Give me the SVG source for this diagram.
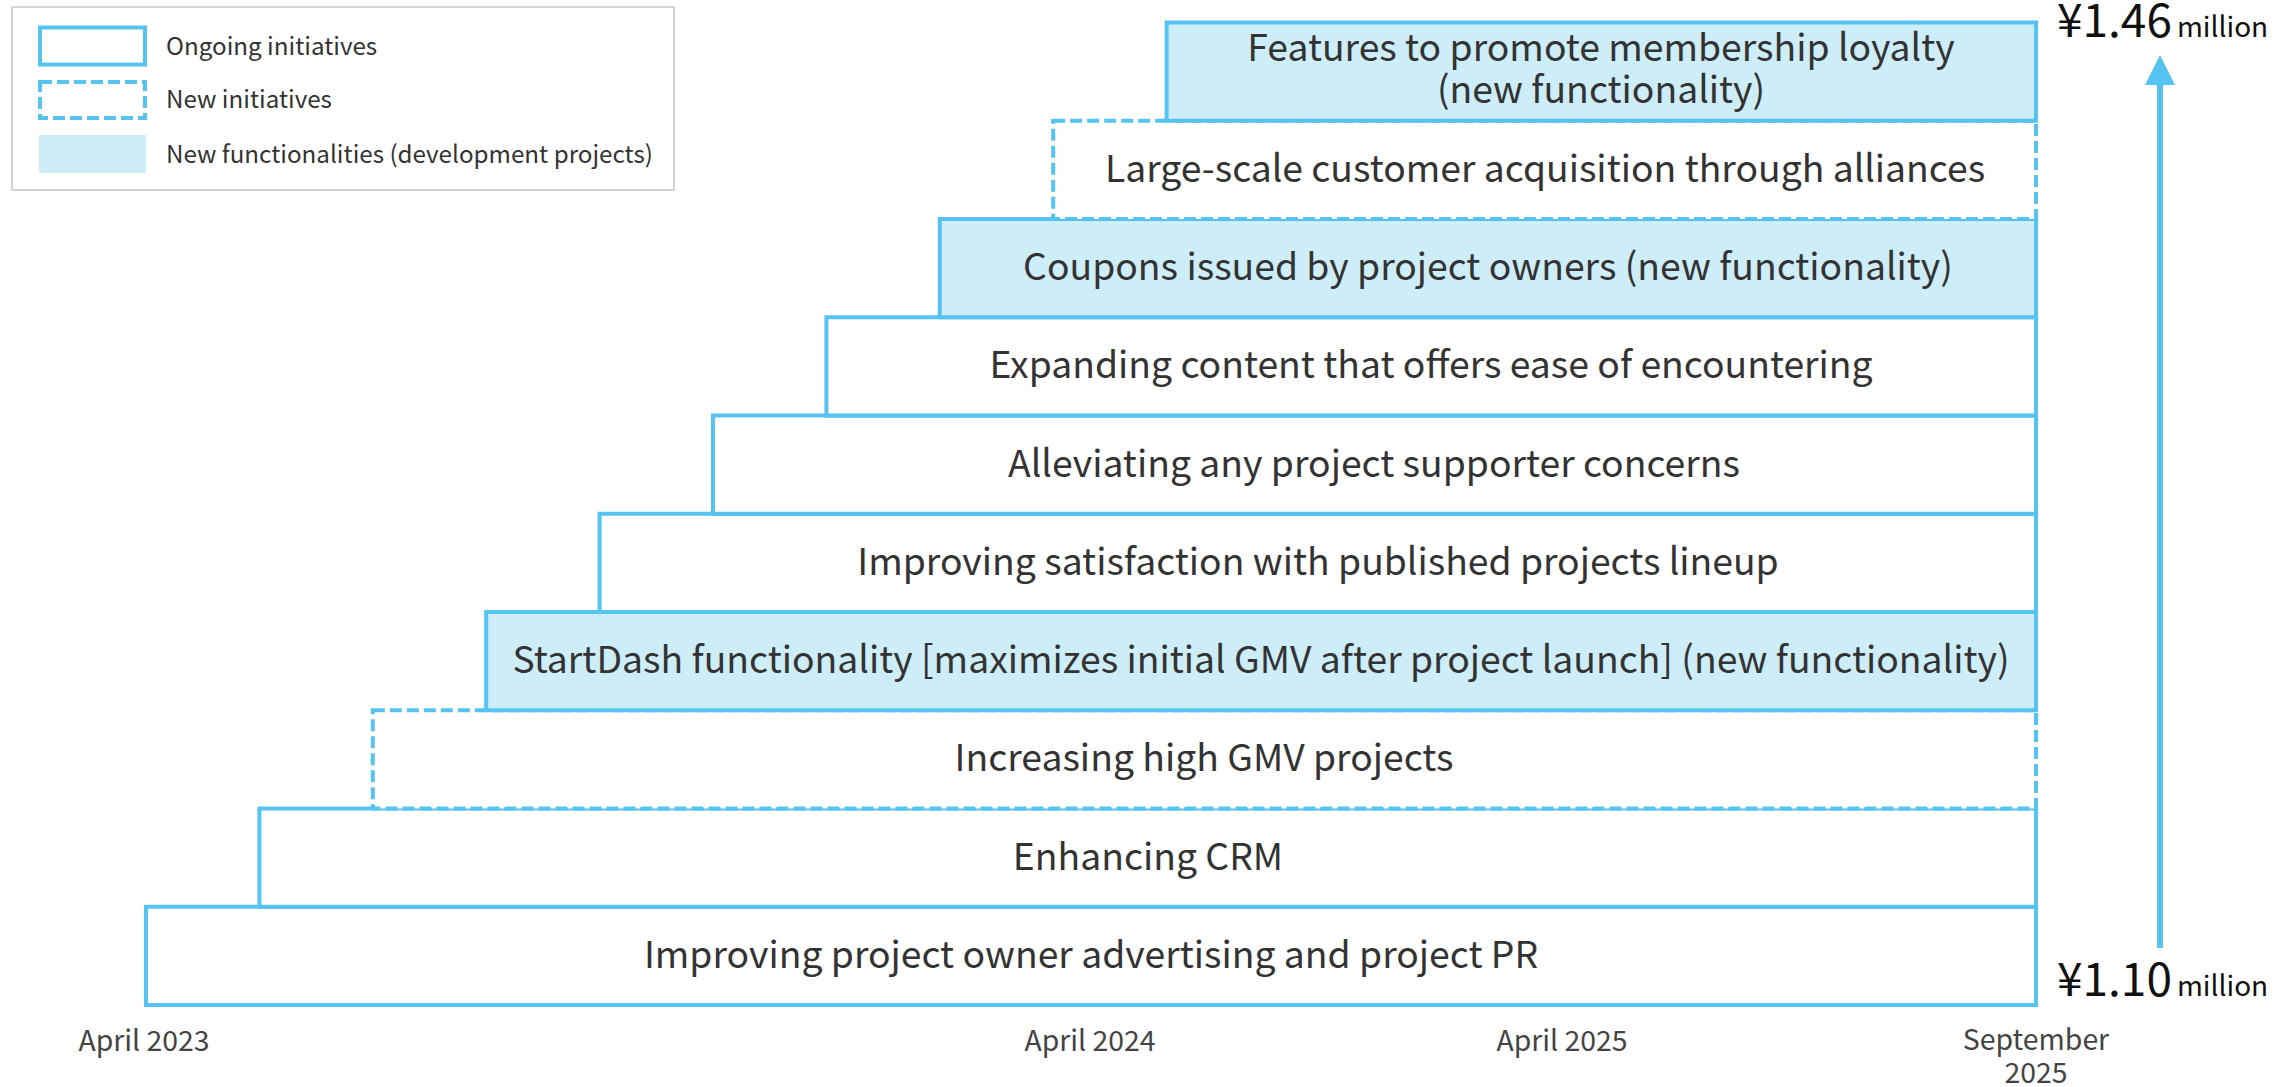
<svg xmlns="http://www.w3.org/2000/svg" width="2292" height="1087" viewBox="0 0 2292 1087">
<style>
  text { font-family: "Noto Sans CJK JP", "Noto Sans", "Liberation Sans", sans-serif; }
  .solid { fill: #ffffff; stroke: #56c3f0; stroke-width: 4; }
  .dash { fill: #ffffff; stroke: #56c3f0; stroke-width: 4; stroke-dasharray: 12 5; }
  .newf { fill: #cdedf9; stroke: #56c3f0; stroke-width: 4; }
  .lbl { font-size: 37.3px; fill: #333333; text-anchor: middle; }
  .leg { font-size: 24.2px; fill: #333333; }
  .axis { font-size: 28.4px; fill: #444444; text-anchor: middle; }
  .yen { font-size: 46px; fill: #111111; }
  .mil { font-size: 28px; fill: #111111; }
</style>
<defs>
  <marker id="head" viewBox="0 0 30 30" refX="0" refY="15" markerWidth="30" markerHeight="30" markerUnits="userSpaceOnUse" orient="auto">
    <path d="M0,0 L30,15 L0,30 Z" fill="#56c3f0"/>
  </marker>
</defs>
<rect width="2292" height="1087" fill="#ffffff"/>

<g id="legend">
  <rect x="12" y="7" width="662" height="183" fill="#ffffff" stroke="#d4d4d4" stroke-width="2"/>
  <rect x="40" y="27.5" width="105" height="37" class="solid"/>
  <rect x="40" y="82" width="105" height="36" class="dash"/>
  <rect x="39" y="135" width="107" height="38" fill="#cdedf9"/>
  <text class="leg" x="166" y="55">Ongoing initiatives</text>
  <text class="leg" x="166" y="108">New initiatives</text>
  <text class="leg" x="166" y="163">New functionalities (development projects)</text>
</g>

<g id="node-k0">
  <rect x="146" y="906.75" width="1890" height="98.25" class="solid"/>
  <text class="lbl" x="1091" y="968">Improving project owner advertising and project PR</text>
</g>
<g id="node-k1">
  <rect x="259.4" y="808.5" width="1776.6" height="98.25" class="solid"/>
  <text class="lbl" x="1148" y="870">Enhancing CRM</text>
</g>
<g id="node-k2">
  <rect x="372.8" y="710.25" width="1663.2" height="98.25" class="dash"/>
  <text class="lbl" x="1204" y="771">Increasing high GMV projects</text>
</g>
<g id="node-k3">
  <rect x="486.2" y="612" width="1549.8" height="98.25" class="newf"/>
  <text class="lbl" x="1261" y="673">StartDash functionality [maximizes initial GMV after project launch] (new functionality)</text>
</g>
<g id="node-k4">
  <rect x="599.6" y="513.75" width="1436.4" height="98.25" class="solid"/>
  <text class="lbl" x="1318" y="575">Improving satisfaction with published projects lineup</text>
</g>
<g id="node-k5">
  <rect x="713" y="415.5" width="1323" height="98.25" class="solid"/>
  <text class="lbl" x="1374" y="477">Alleviating any project supporter concerns</text>
</g>
<g id="node-k6">
  <rect x="826.4" y="317.25" width="1209.6" height="98.25" class="solid"/>
  <text class="lbl" x="1431" y="378">Expanding content that offers ease of encountering</text>
</g>
<g id="node-k7">
  <rect x="939.8" y="219" width="1096.2" height="98.25" class="newf"/>
  <text class="lbl" x="1488" y="280">Coupons issued by project owners (new functionality)</text>
</g>
<g id="node-k8">
  <rect x="1053.2" y="120.75" width="982.8" height="98.25" class="dash"/>
  <text class="lbl" x="1545" y="182">Large-scale customer acquisition through alliances</text>
</g>
<g id="node-k9">
  <rect x="1166.6" y="22.5" width="869.4" height="98.25" class="newf"/>
  <text class="lbl" x="1601" y="61">Features to promote membership loyalty</text>
  <text class="lbl" x="1601" y="103">(new functionality)</text>
</g>

<g id="connectors">
  <line x1="2160" y1="948" x2="2160" y2="85" stroke="#56c3f0" stroke-width="6" marker-end="url(#head)"/>
</g>

<g id="values">
  <text x="2057" y="37"><tspan class="yen">¥1.46</tspan><tspan class="mil" dx="5">million</tspan></text>
  <text x="2057" y="996"><tspan class="yen">¥1.10</tspan><tspan class="mil" dx="5">million</tspan></text>
</g>

<g id="axis">
  <text class="axis" x="144" y="1051">April 2023</text>
  <text class="axis" x="1090" y="1051">April 2024</text>
  <text class="axis" x="1562" y="1051">April 2025</text>
  <text class="axis" x="2036" y="1050">September</text>
  <text class="axis" x="2036" y="1083">2025</text>
</g>
</svg>
